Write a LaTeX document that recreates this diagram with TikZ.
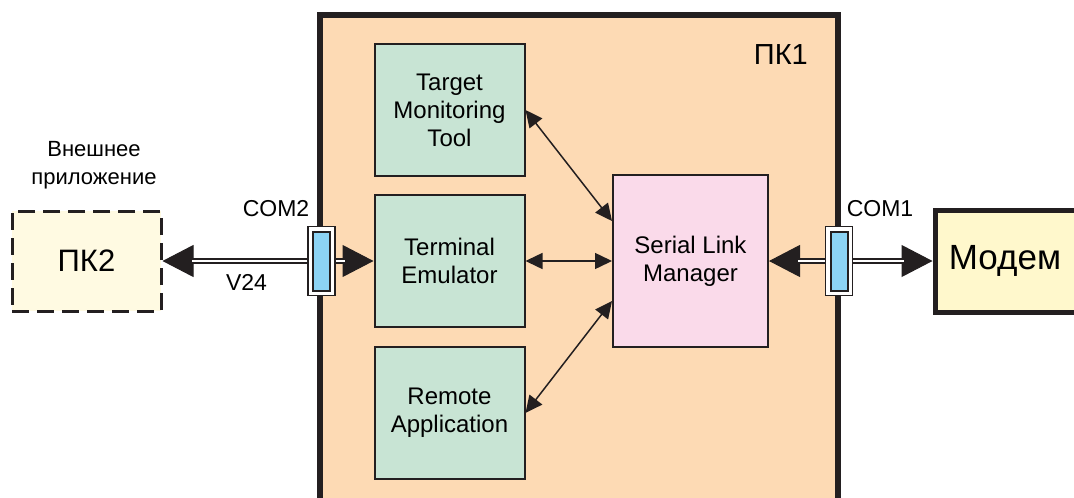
\documentclass[tikz,border=0pt]{standalone}
\usepackage{fontspec}
\setmainfont{Liberation Sans}
\usetikzlibrary{arrows.meta}

\definecolor{inkgray}{RGB}{35,31,32}
\definecolor{pcpeach}{RGB}{253,218,180}
\definecolor{appgreen}{RGB}{200,228,212}
\definecolor{slmpink}{RGB}{250,218,234}
\definecolor{extyellow}{RGB}{255,250,226}
\definecolor{modemyellow}{RGB}{255,248,204}
\definecolor{portblue}{RGB}{140,212,245}

\tikzset{
    appbox/.style={draw=inkgray, line width=2pt, fill=appgreen, align=center,
        minimum width=150pt, minimum height=132pt, inner sep=0pt,
        font=\fontsize{24}{28}\selectfont},
    slmbox/.style={appbox, fill=slmpink, minimum width=155pt, minimum height=172pt},
    extbox/.style={draw=inkgray, line width=3pt, dash pattern=on 17pt off 8pt,
        fill=extyellow, minimum width=149pt, minimum height=100pt, inner sep=0pt,
        font=\fontsize{31}{36}\selectfont},
    modembox/.style={draw=inkgray, line width=5pt, fill=modemyellow,
        minimum width=150pt, minimum height=102pt, inner sep=0pt,
        font=\fontsize{35}{40}\selectfont},
    portouter/.style={draw=inkgray, line width=1.5pt, fill=white,
        minimum width=27pt, minimum height=69pt, inner sep=0pt},
    portinner/.style={draw=inkgray, line width=2pt, fill=portblue,
        minimum width=17pt, minimum height=59pt, inner sep=0pt},
    lbl/.style={anchor=base, font=\fontsize{23}{28}\selectfont, inner sep=0pt},
    tipline/.style={draw=inkgray, line width=1pt, -{Triangle[length=31pt,width=32pt]}},
    twinline/.style={draw=inkgray, double=white, double distance=2pt, line width=2pt,
        shorten >=29pt},
    linkarrow/.style={draw=inkgray, line width=1.5pt,
        {Triangle[length=17pt,width=16pt]}-{Triangle[length=17pt,width=16pt]}}
}

\begin{document}
\begin{tikzpicture}[x=1pt,y=-1pt]

    % Page frame
    \useasboundingbox (0,0) rectangle (1074,498);
    \clip (0,0) rectangle (1074,498);

    % The PC1 frame, open at the bottom of the page
    \draw[line width=6pt, draw=inkgray, fill=pcpeach] (320,15) rectangle (838,530);
    \node[anchor=base east, font=\fontsize{29}{34}\selectfont, inner sep=0pt] (pc1lbl) at (808,64) {ПК1};

    % Applications inside PC1
    \node[appbox] (tmt) at (449.5,110) {Target\\Monitoring\\Tool};
    \node[appbox] (term) at (449.5,261) {Terminal\\Emulator};
    \node[appbox] (remote) at (449.5,413) {Remote\\Application};
    \node[slmbox] (slm) at (690.5,261) {Serial Link\\Manager};

    % External application and modem
    \node[extbox] (pk2) at (86.5,261) {ПК2};
    \node[align=center, font=\fontsize{22}{28}\selectfont, inner sep=0pt] (extlbl) at (94,165) {Внешнее\\приложение};
    \node[modembox] (modem) at (1010,261) {\hspace*{-10pt}Модем};

    % Serial ports
    \node[portouter] (com2) at (321.5,261) {};
    \node[portinner] (com2in) at (com2) {};
    \node[portouter] (com1) at (839,261) {};
    \node[portinner] (com1in) at (com1) {};
    \node[lbl] (com2lbl) at (276,216.5) {COM2};
    \node[lbl] (com1lbl) at (880,216.5) {COM1};
    \node[lbl] (v24lbl) at (246.5,290) {V24};

    % Double serial lines: solid tips first, then the twin line over them
    \foreach \src/\dst in {com2/pk2, com2/term, com1/slm, com1/modem} {
        \draw[tipline] (\src) -- (\dst);
        \draw[twinline] (\src) -- (\dst);
    }

    % Links to the Serial Link Manager
    \draw[linkarrow] (tmt.east) -- (slm.153);
    \draw[linkarrow] (term.east) -- (slm.west);
    \draw[linkarrow] (remote.east) -- (slm.207);

\end{tikzpicture}
\end{document}
